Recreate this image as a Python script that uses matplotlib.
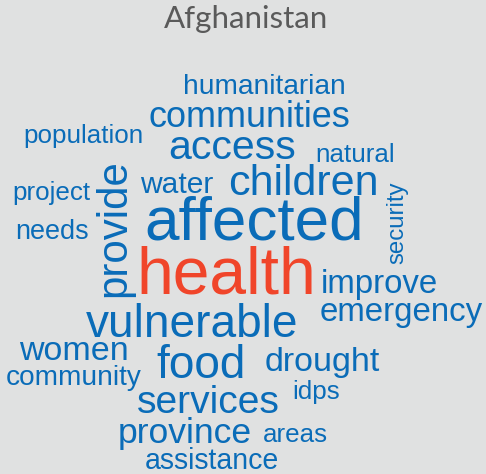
import matplotlib.pyplot as plt

# word cloud data: words and their relative weight (font size in px)
words = ["humanitarian", "communities", "access", "natural", "population",
         "provide", "water", "children", "security", "project", "affected",
         "needs", "health", "improve", "emergency", "vulnerable", "women",
         "community", "food", "drought", "idps", "services", "province",
         "areas", "assistance"]
weights = [28, 36, 41, 26, 26, 42, 30, 43, 24, 26, 62,
           27, 66, 33, 33, 46, 34, 28, 46, 34, 26, 39, 35.5, 26, 28.5]

# layout (pixel centres, rotation) -- placement only
layout = [(264, 87, 0), (249, 117, 0), (232, 148, 0), (355, 155, 0), (83, 136, 0),
          (114, 228, 90), (177, 185, 0), (303, 184, 0), (397, 223, 90), (51, 193, 0),
          (254, 224, 0), (52, 232, 0), (226, 276, 0), (379, 284, 0), (401, 313, 0),
          (192, 325, 0), (74, 352, 0), (74, 378, 0), (201, 366, 0), (322, 362, 0),
          (316, 392, 0), (208, 403, 0), (185, 433, 0), (295, 435, 0), (212, 461, 0)]

blue = "#0a6cb8"
red = "#f0452a"

fig = plt.figure(figsize=(4.86, 4.74), dpi=100)
fig.patch.set_facecolor("#e0e1e1")
ax = fig.add_axes([0, 0, 1, 1])
ax.set_xlim(0, 486)
ax.set_ylim(474, 0)
ax.axis("off")

ax.text(246, 19, "Afghanistan", ha="center", va="center", fontsize=22.5,
        color="#5a5a5a", family="Lato")

for w, s, (x, y, r) in zip(words, weights, layout):
    c = red if w == "health" else blue
    ax.text(x, y, w, ha="center", va="center", rotation=r,
            fontsize=s * 0.72, color=c, family="Liberation Sans")

fig.savefig("out.png", dpi=100, facecolor=fig.get_facecolor())
